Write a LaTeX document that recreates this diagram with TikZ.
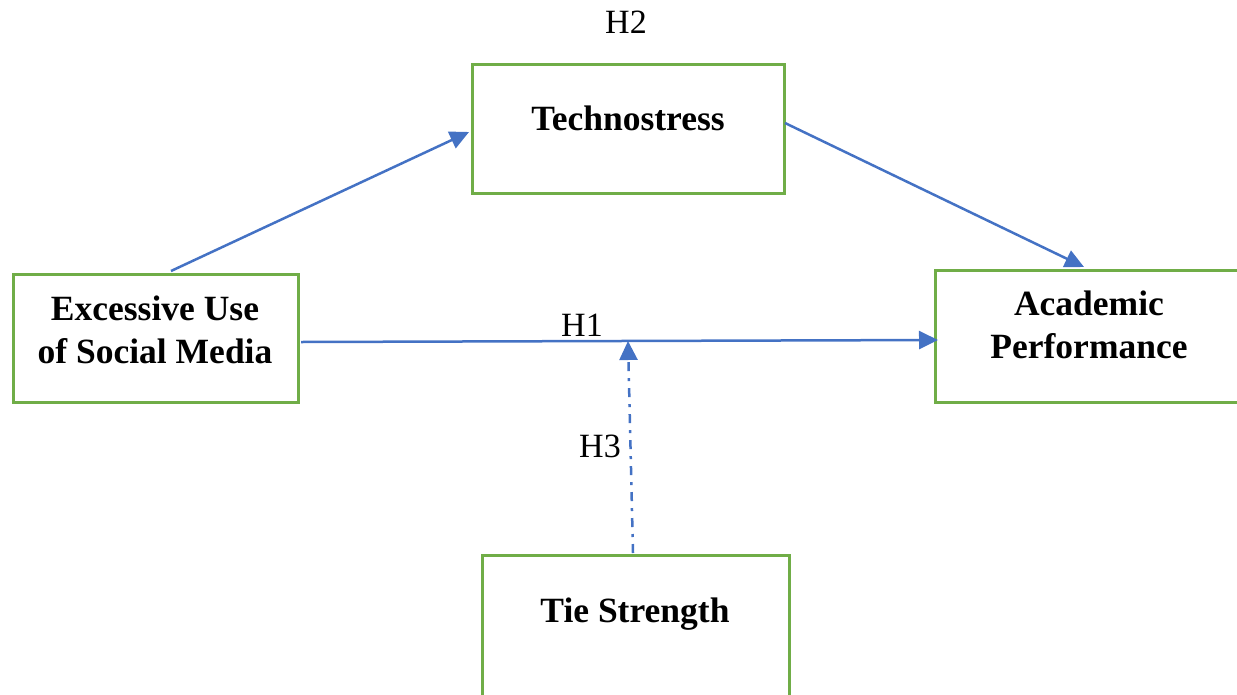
\documentclass[tikz,border=0pt]{standalone}
\usepackage{fontspec}
\setmainfont{Liberation Serif}
\usetikzlibrary{arrows.meta}
\definecolor{boxgreen}{HTML}{70AD47}
\definecolor{arrowblue}{HTML}{4472C4}
\tikzset{
  box/.style={draw=boxgreen, line width=3pt, minimum width=#1, inner sep=0pt},
  lbl/.style={font=\fontsize{35.5}{43}\selectfont\bfseries, align=center, inner sep=0pt},
  hyp/.style={font=\fontsize{34}{40}\selectfont, inner sep=0pt},
  conn/.style={draw=arrowblue, line width=2.5pt, -{Triangle[length=19pt,width=18pt]}},
}
\begin{document}
\begin{tikzpicture}[x=1pt,y=-1pt]
\useasboundingbox (0,0) rectangle (1237,694);
\clip (0,0) rectangle (1237,694);
% boxes
\node[box=312pt, minimum height=129pt] (tech) at (628,128.5) {};
\node[box=285pt, minimum height=128pt] (exc) at (155.5,338) {};
\node[box=320pt, minimum height=132pt] (acad) at (1095,336) {};
\node[box=307pt, minimum height=160pt] (tie) at (635.5,635) {};
% texts
\node[lbl] (ttech) at (628,118) {Technostress};
\node[lbl] (texc) at (155,330) {Excessive Use\\of Social Media};
\node[lbl] (tacad) at (1089,325) {Academic\\Performance};
\node[lbl] (ttie) at (635,614) {Tie Strength};
% hypothesis labels
\node[hyp] (h2) at (626,22) {H2};
\node[hyp] (h1) at (582,325) {H1};
\node[hyp] (h3) at (600,446) {H3};
% connectors
\coordinate (e1) at (171,271);
\coordinate (t1) at (469,132);
\coordinate (t2) at (785,123);
\coordinate (a1) at (1084,267);
\coordinate (e2) at (301,342);
\coordinate (a2) at (938,340);
\coordinate (s1) at (633,553);
\coordinate (m1) at (628,341);
\draw[conn] (e1) -- (t1);
\draw[conn] (t2) -- (a1);
\draw[conn] (e2) -- (a2);
\draw[conn, dash pattern=on 9pt off 7pt on 3pt off 7pt] (s1) -- (m1);
\end{tikzpicture}
\end{document}
